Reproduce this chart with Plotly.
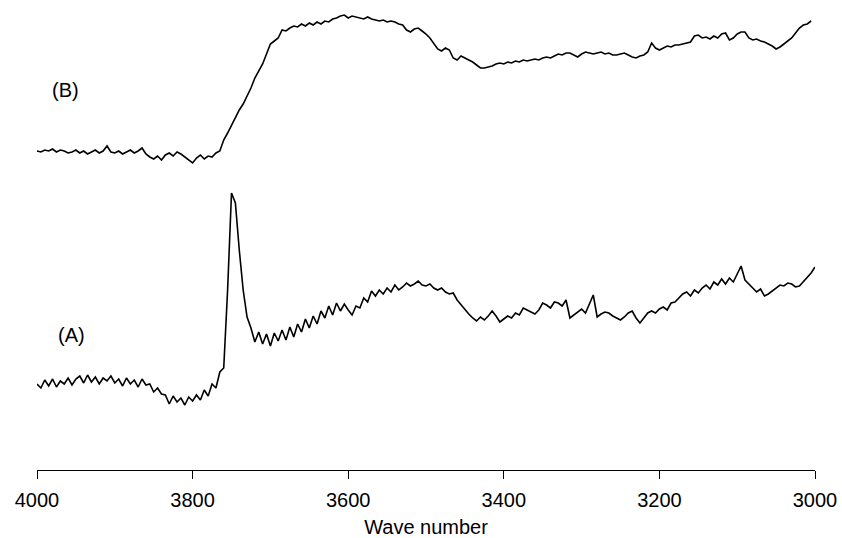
import plotly.graph_objects as go

# Spectrum A: wavenumbers 4000 -> 3000 step 5 (intensity, arbitrary units)
A_start, A_step = 4000, -5
A_values = [
    84, 80, 88, 82, 89, 81, 87, 84, 90, 83,        # 4000-3955
    89, 92, 85, 93, 86, 91, 84, 90, 87, 92,        # 3950-3905
    85, 89, 82, 90, 84, 88, 81, 89, 83, 84,        # 3900-3855
    76, 80, 74, 73, 64, 72, 66, 70, 63, 71,        # 3850-3805
    67, 73, 68, 78, 72, 84, 80, 96, 100, 178,      # 3800-3755
    275, 265, 218, 178, 151, 140, 126, 136, 124, 134,  # 3750-3705
    122, 135, 127, 138, 128, 141, 131, 144, 136, 149,  # 3700-3655
    140, 152, 144, 157, 150, 162, 153, 165, 157, 164,  # 3650-3605
    158, 153, 162, 160, 170, 166, 177, 172, 178, 174,  # 3600-3555
    180, 176, 183, 178, 181, 185, 182, 184, 187, 183,  # 3550-3505
    182, 184, 180, 178, 180, 176, 174, 175, 168, 163,  # 3500-3455
    158, 154, 150, 147, 151, 148, 152, 157, 152, 146,  # 3450-3405
    149, 152, 150, 155, 153, 160, 158, 156, 154, 158,  # 3400-3355
    165, 163, 160, 166, 165, 162, 168, 150, 153, 156,  # 3350-3305
    159, 155, 164, 173, 151, 154, 156, 155, 152, 150,  # 3300-3255
    148, 151, 155, 157, 150, 145, 150, 155, 157, 155,  # 3250-3205
    159, 161, 158, 165, 166, 170, 174, 176, 172, 178,  # 3200-3155
    175, 180, 183, 179, 186, 183, 189, 184, 190, 186,  # 3150-3105
    194, 202, 188, 184, 181, 176, 179, 172, 174, 177,  # 3100-3055
    180, 183, 182, 185, 184, 181, 182, 186, 191, 195,  # 3050-3005
    201,                                               # 3000
]

# Spectrum B: wavenumbers 4005 -> 3005 step 5 (intensity, arbitrary units)
B_start, B_step = 4005, -5
B_values = [
    315, 317, 316, 318, 317, 319, 316, 318, 317, 315,  # 4005-3960
    316, 318, 315, 317, 314, 316, 318, 315, 317, 322,  # 3955-3910
    316, 315, 317, 314, 316, 318, 315, 317, 320, 314,  # 3905-3860
    311, 309, 312, 308, 313, 315, 312, 316, 314, 311,  # 3855-3810
    308, 305, 310, 313, 309, 312, 311, 315, 317, 328,  # 3805-3760
    335, 343, 350, 358, 364, 372, 380, 390, 397, 404,  # 3755-3710
    414, 424, 427, 430, 438, 437, 440, 442, 441, 444,  # 3705-3660
    442, 445, 443, 446, 444, 447, 446, 449, 450, 452,  # 3655-3610
    453, 450, 452, 451, 450, 449, 451, 449, 448, 447,  # 3605-3560
    448, 446, 447, 446, 444, 443, 438, 436, 439, 440,  # 3555-3510
    437, 434, 430, 425, 419, 417, 420, 418, 410, 408,  # 3505-3460
    412, 410, 408, 406, 403, 400, 400, 401, 402, 404,  # 3455-3410
    405, 404, 406, 405, 407, 406, 408, 407, 408, 409,  # 3405-3360
    408, 410, 411, 410, 412, 414, 413, 415, 415, 413,  # 3355-3310
    411, 414, 416, 415, 414, 415, 416, 414, 415, 413,  # 3305-3260
    413, 414, 415, 413, 411, 410, 412, 413, 416, 425,  # 3255-3210
    420, 418, 420, 422, 421, 423, 423, 424, 425, 426,  # 3205-3160
    432, 433, 430, 431, 429, 432, 430, 434, 435, 428,  # 3155-3110
    430, 434, 436, 436, 430, 428, 429, 427, 426, 424,  # 3105-3060
    422, 419, 421, 424, 427, 430, 435, 440, 443, 444,  # 3055-3010
    447,                                               # 3005
]

A_wn = [A_start + A_step * i for i in range(len(A_values))]
B_wn = [B_start + B_step * i for i in range(len(B_values))]

x_ticks = [4000, 3800, 3600, 3400, 3200, 3000]
x_title = "Wave number"
labels = ["(B)", "(A)"]
label_pos = [(3964, 378), (3956, 133)]

FONT = "Liberation Sans, Arial, Helvetica, sans-serif"

fig = go.Figure()
fig.add_trace(go.Scatter(x=B_wn, y=B_values, mode="lines",
                         line=dict(color="black", width=1.6), showlegend=False))
fig.add_trace(go.Scatter(x=A_wn, y=A_values, mode="lines",
                         line=dict(color="black", width=1.6), showlegend=False))

for txt, (lx, ly) in zip(labels, label_pos):
    fig.add_annotation(x=lx, y=ly, text=txt, showarrow=False,
                       font=dict(family=FONT, size=20, color="black"))

fig.update_layout(
    width=842, height=538,
    margin=dict(l=37, r=27, t=12, b=68, autoexpand=False),
    plot_bgcolor="white", paper_bgcolor="white",
    font=dict(family=FONT, size=20, color="black"),
    xaxis=dict(range=[4000, 3000], tickvals=x_ticks, ticktext=[str(t) for t in x_ticks],
               automargin=False,
               showline=True, linecolor="black", linewidth=1.3,
               ticks="outside", ticklen=8, tickcolor="black", tickwidth=1.3,
               ticklabelstandoff=4,
               showgrid=False, zeroline=False,
               tickfont=dict(size=20),
               title=dict(text=x_title, font=dict(size=20), standoff=10)),
    yaxis=dict(range=[-2, 456], visible=False, showgrid=False, zeroline=False,
               automargin=False),
)

fig.write_html(
    "out.html",
    config={"displayModeBar": False},
    post_script="document.body.style.margin='0';document.body.style.overflow='hidden';",
)
